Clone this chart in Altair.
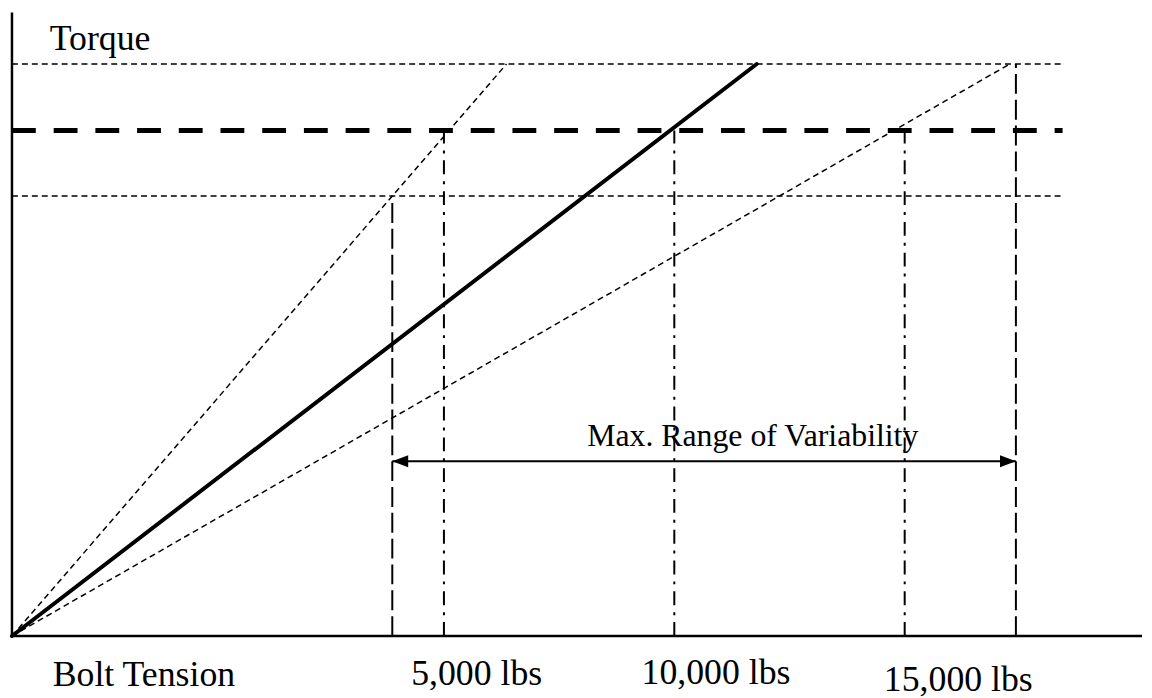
import altair as alt
import pandas as pd

# Schematic diagram units: x = bolt-tension axis, y = torque axis, origin at (0, 0)
axis_x_end = 1138
axis_y_end = 628

# Horizontal torque levels (upper limit, target setting, lower limit)
level_names = ["Upper torque", "Target torque", "Lower torque"]
level_values = [576, 509, 443]
level_ends = [1056, 1058, 1056]
level_style = ["thin", "thick", "thin"]

# Torque vs tension lines (high friction, nominal, low friction)
curve_names = ["High friction", "Nominal", "Low friction"]
curve_end_x = [498, 750, 1003]
curve_end_y = [576, 576, 575]
curve_style = ["dashed", "solid", "dashed"]

# Vertical drop lines to the tension axis
vline_names = ["Min tension", "5,000 lbs", "10,000 lbs", "15,000 lbs", "Max tension"]
vline_x = [383, 435, 667, 899, 1011]
vline_top = [443, 509, 509, 509, 576]
vline_style = ["dash", "dashdot", "dashdot", "dashdot", "dash"]

# Tick labels under the tension axis
tick_labels = ["5,000 lbs", "10,000 lbs", "15,000 lbs"]
tick_label_x = [468, 709, 953]
tick_label_y = [-49, -48, -55]

# Range of variability arrow
range_from = 383
range_to = 1011
range_level = 176
range_text = "Max. Range of Variability"
range_text_x = 746
range_text_y = 191

# Axis titles
axis_titles = ["Torque", "Bolt Tension"]
axis_title_x = [38, 41]
axis_title_y = [590, -50]

FONT = "Liberation Serif"
xs = alt.Scale(domain=[0, 1138], nice=False, zero=False)
ys = alt.Scale(domain=[-60, 630], nice=False, zero=False)


def X(f):
    return alt.X(f, type="quantitative", scale=xs, axis=None)


def Y(f):
    return alt.Y(f, type="quantitative", scale=ys, axis=None)


axes_df = pd.DataFrame({
    "x": [0, 0], "x2": [axis_x_end, 0],
    "y": [0, 0], "y2": [0, axis_y_end],
})
axes = alt.Chart(axes_df).mark_rule(color="black", strokeWidth=2.5).encode(
    x=X("x"), x2=alt.X2("x2"), y=Y("y"), y2=alt.Y2("y2"))

levels_df = pd.DataFrame({"name": level_names, "y": level_values,
                          "x0": [0] * 3, "x1": level_ends, "style": level_style})
thin_levels = alt.Chart(levels_df[levels_df["style"] == "thin"]).mark_rule(
    color="black", strokeWidth=1.5, strokeDash=[6, 4]).encode(
    x=X("x0"), x2=alt.X2("x1"), y=Y("y"))
thick_levels = alt.Chart(levels_df[levels_df["style"] == "thick"]).mark_rule(
    color="black", strokeWidth=5, strokeDash=[24, 18]).encode(
    x=X("x0"), x2=alt.X2("x1"), y=Y("y"))

curves_df = pd.DataFrame({"name": curve_names, "x0": [0] * 3, "y0": [0] * 3,
                          "x1": curve_end_x, "y1": curve_end_y, "style": curve_style})
dashed_curves = alt.Chart(curves_df[curves_df["style"] == "dashed"]).mark_rule(
    color="black", strokeWidth=1.5, strokeDash=[6, 4]).encode(
    x=X("x0"), x2=alt.X2("x1"), y=Y("y0"), y2=alt.Y2("y1"))
solid_curve = alt.Chart(curves_df[curves_df["style"] == "solid"]).mark_rule(
    color="black", strokeWidth=4, strokeCap="round").encode(
    x=X("x0"), x2=alt.X2("x1"), y=Y("y0"), y2=alt.Y2("y1"))

vl_df = pd.DataFrame({"name": vline_names, "x": vline_x, "y0": [0] * 5,
                      "y1": vline_top, "style": vline_style})
dash_v = alt.Chart(vl_df[vl_df["style"] == "dash"]).mark_rule(
    color="black", strokeWidth=2, strokeDash=[20, 6]).encode(
    x=X("x"), y=Y("y0"), y2=alt.Y2("y1"))
dashdot_v = alt.Chart(vl_df[vl_df["style"] == "dashdot"]).mark_rule(
    color="black", strokeWidth=2, strokeDash=[14, 7, 3, 7]).encode(
    x=X("x"), y=Y("y0"), y2=alt.Y2("y1"))

arrow_df = pd.DataFrame({"x0": [range_from], "x1": [range_to], "y": [range_level]})
arrow_line = alt.Chart(arrow_df).mark_rule(color="black", strokeWidth=2).encode(
    x=X("x0"), x2=alt.X2("x1"), y=Y("y"))
heads_df = pd.DataFrame({"x": [range_from, range_to], "y": [range_level] * 2,
                         "side": ["left", "right"]})
head_left = alt.Chart(heads_df[heads_df["side"] == "left"]).mark_point(
    shape="M0,0L1,-0.38L1,0.38Z", filled=True, color="black", opacity=1, size=1024).encode(
    x=X("x"), y=Y("y"))
head_right = alt.Chart(heads_df[heads_df["side"] == "right"]).mark_point(
    shape="M0,0L-1,-0.38L-1,0.38Z", filled=True, color="black", opacity=1, size=1024).encode(
    x=X("x"), y=Y("y"))

range_df = pd.DataFrame({"t": [range_text], "x": [range_text_x], "y": [range_text_y]})
range_label = alt.Chart(range_df).mark_text(
    font=FONT, fontSize=32, color="black", align="center", baseline="alphabetic").encode(
    x=X("x"), y=Y("y"), text="t:N")

ticks_df = pd.DataFrame({"t": tick_labels, "x": tick_label_x, "y": tick_label_y})
tick_text = alt.Chart(ticks_df).mark_text(
    font=FONT, fontSize=36, color="black", align="center", baseline="alphabetic").encode(
    x=X("x"), y=Y("y"), text="t:N")

titles_df = pd.DataFrame({"t": axis_titles, "x": axis_title_x, "y": axis_title_y})
title_text = alt.Chart(titles_df).mark_text(
    font=FONT, fontSize=36, color="black", align="left", baseline="alphabetic").encode(
    x=X("x"), y=Y("y"), text="t:N")

chart = alt.layer(
    thin_levels, thick_levels, dash_v, dashdot_v, dashed_curves, solid_curve,
    arrow_line, head_left, head_right, axes, range_label, tick_text, title_text,
).properties(
    width=1138, height=690,
    autosize=alt.AutoSizeParams(type="none"),
    padding={"left": 4, "top": 0, "right": 2, "bottom": 0},
    background="white",
).configure_view(stroke=None)

chart.save("out.html", embed_options={"renderer": "svg", "actions": False})
